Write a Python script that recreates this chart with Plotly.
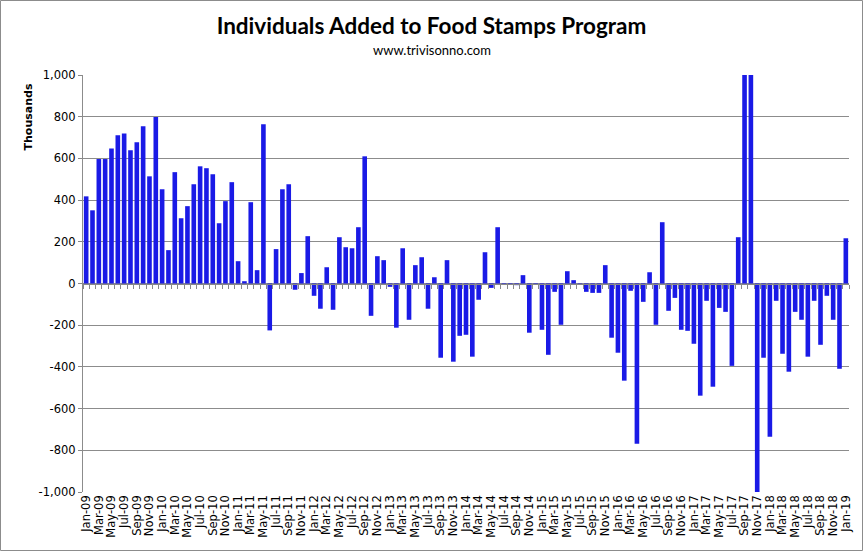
import plotly.graph_objects as go

# Monthly changes in SNAP participants (thousands), Jan-09 .. Jan-19
mon = ["Jan", "Feb", "Mar", "Apr", "May", "Jun", "Jul", "Aug", "Sep", "Oct", "Nov", "Dec"]
months = [f"{mon[i % 12]}-{9 + i // 12:02d}" for i in range(121)]

values = [
    418, 351, 597, 597, 648, 711, 720, 639, 677, 754, 514, 799,      # 2009
    452, 160, 534, 313, 371, 476, 562, 553, 524, 289, 395, 486,      # 2010
    107, 11, 390, 64, 764, -225, 165, 452, 476, -30, 50, 227,        # 2011
    -59, -121, 78, -126, 222, 174, 169, 270, 610, -155, 131, 112,    # 2012
    -16, -212, 169, -174, 88, 126, -121, 30, -356, 112, -375, -251,  # 2013
    -246, -351, -78, 150, -21, 270, -5, -5, -8, 40, -236, -5,        # 2014
    -222, -342, -40, -198, 59, 16, 2, -40, -45, -45, 88, -260,       # 2015
    -332, -466, -35, -768, -88, 54, -198, 294, -131, -69, -222, -227,  # 2016
    -289, -538, -83, -495, -117, -136, -395, 222, 1250, 1400, -1650, -356,  # 2017
    -735, -83, -337, -423, -136, -174, -351, -83, -294, -59, -174, -409,  # 2018
    217,                                                              # 2019
]

y_ticks = [1000, 800, 600, 400, 200, 0, -200, -400, -600, -800, -1000]
y_tick_text = ["1,000", "800", "600", "400", "200", "0", "-200", "-400", "-600", "-800", "-1,000"]

idx = list(range(len(months)))

fig = go.Figure()
fig.add_trace(go.Bar(
    x=idx, y=values,
    marker=dict(color="#1a1ae6", line=dict(width=0)),
    xaxis="x", yaxis="y",
    showlegend=False,
))
# invisible trace so the zero-line tick axis is drawn
fig.add_trace(go.Scatter(x=[idx[0]], y=[0], xaxis="x2", yaxis="y",
                         mode="markers", marker=dict(opacity=0), showlegend=False,
                         hoverinfo="skip"))

L, R, T, B = 83, 14, 75, 59
W, H = 863, 551
ph = H - T - B
pw = W - L - R

def py(pix_y):
    return (H - B - pix_y) / ph

def px(pix_x):
    return (pix_x - L) / pw

fig.update_layout(
    width=W, height=H,
    margin=dict(l=L, r=R, t=T, b=B, autoexpand=False),
    paper_bgcolor="white", plot_bgcolor="white",
    bargap=0.27,
    font=dict(family="DejaVu Sans", size=11, color="black"),
    title=dict(
        text="<b>Individuals Added to Food Stamps Program</b>",
        x=0.5, xref="container", xanchor="center",
        y=1 - 26 / H, yref="container", yanchor="middle",
        font=dict(family="Lato", size=22.5, color="black"),
    ),
    xaxis=dict(
        range=[-0.5, 120.5],
        tickmode="array",
        tickvals=idx[::2],
        ticktext=months[::2],
        tickangle=-90,
        ticks="",
        showgrid=False, zeroline=False,
        showline=False,
        automargin=False,
        tickfont=dict(family="DejaVu Sans", size=11.5),
    ),
    xaxis2=dict(
        range=[-0.5, 120.5],
        overlaying="x",
        anchor="free",
        position=0.5,
        tickmode="linear", tick0=0.5, dtick=1,
        ticks="outside", ticklen=4, tickcolor="#888888", tickwidth=1,
        showticklabels=False,
        showgrid=False, zeroline=False,
        showline=True, linecolor="#888888", linewidth=1,
        automargin=False,
    ),
    yaxis=dict(
        range=[-1000, 1000],
        tickmode="array",
        tickvals=y_ticks,
        ticktext=y_tick_text,
        ticks="outside", ticklen=4, tickcolor="#888888",
        showgrid=True, gridcolor="#8c8c8c", gridwidth=1,
        zeroline=False,
        showline=True, linecolor="#8c8c8c", linewidth=1,
        automargin=False,
        tickfont=dict(family="DejaVu Sans", size=11.5),
    ),
    annotations=[
        dict(
            text="www.trivisonno.com", xref="paper", yref="paper",
            x=px(431.5), y=py(50), xanchor="center", yanchor="middle",
            showarrow=False, font=dict(family="Lato", size=13, color="black"),
        ),
        dict(
            text="<b>Thousands</b>", xref="paper", yref="paper",
            x=px(28), y=py(82), xanchor="center", yanchor="top",
            textangle=-90,
            showarrow=False, font=dict(family="DejaVu Sans", size=11, color="black"),
        ),
    ],
    shapes=[dict(
        type="rect", xref="paper", yref="paper",
        x0=px(0.5), x1=px(W - 0.5),
        y0=py(H - 0.5), y1=py(0.5),
        line=dict(color="#8c8c8c", width=1), fillcolor="rgba(0,0,0,0)", layer="below",
    )],
)

fig.write_html(
    "out.html",
    config={"displayModeBar": False, "staticPlot": True},
    post_script="document.body.style.margin='0';document.body.style.overflow='hidden';",
)
